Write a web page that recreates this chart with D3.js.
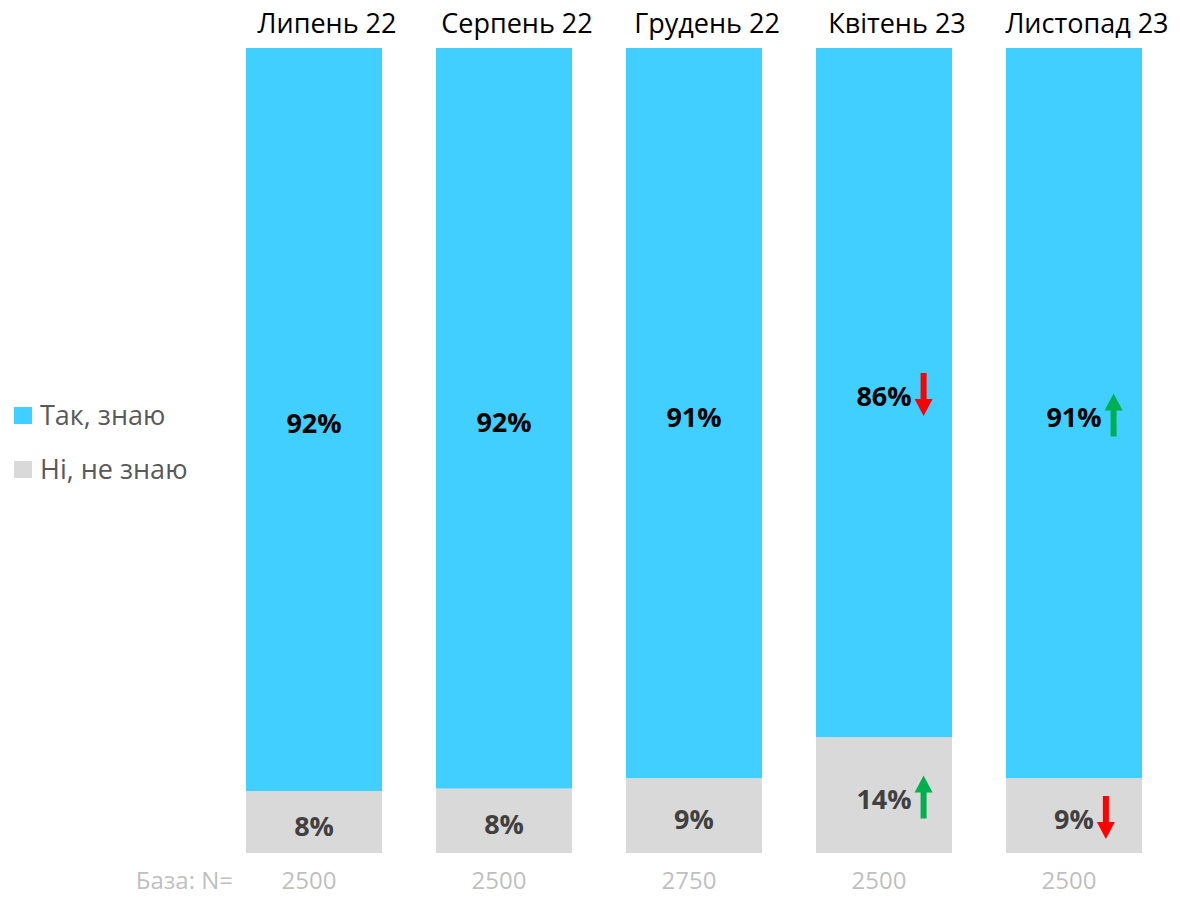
<!DOCTYPE html>
<html>
<head>
<meta charset="utf-8">
<script src="https://cdn.jsdelivr.net/npm/d3@7"></script>
<style>
  body { margin: 0; background: #fff; }
  svg text { font-family: "Open Sans", "Noto Sans", sans-serif; }
</style>
</head>
<body>
<svg id="chart" width="1180" height="898"></svg>
<script>
// Data

var months = ["Липень 22", "Серпень 22", "Грудень 22", "Квітень 23", "Листопад 23"];
var yesValues = [92.3, 92.0, 90.7, 85.6, 90.7];   // Так, знаю
var noValues = [7.7, 8.0, 9.3, 14.4, 9.3];         // Ні, не знаю
var baseN = [2500, 2500, 2750, 2500, 2500];
// change markers: 0 = none, 1 = up, -1 = down
var yesChange = [0, 0, 0, -1, 1];
var noChange = [0, 0, 0, 1, -1];
var seriesNames = ["Так, знаю", "Ні, не знаю"];

var blue = "#41CFFF",
    grey = "#D9D9D9",
    upColor = "#00B050",
    downColor = "#FF0000";

var svg = d3.select("#chart");

// Scales
var x = d3.scaleBand()
    .domain(months)
    .range([246, 1142])
    .paddingInner(0.284)
    .paddingOuter(0);

var y = d3.scaleLinear()
    .domain([0, 100])
    .range([853, 48]);

var rows = months.map(function (m, i) {
    return { month: m, no: noValues[i], yes: yesValues[i], n: baseN[i], yc: yesChange[i], nc: noChange[i] };
});

var stack = d3.stack().keys(["no", "yes"]);
var layers = stack(rows);
var colors = { no: grey, yes: blue };

// bars
svg.selectAll(".layer")
    .data(layers)
    .enter()
    .append("g")
    .attr("class", "layer")
    .attr("fill", function (d) { return colors[d.key]; })
    .selectAll("rect")
    .data(function (d) { return d; })
    .enter()
    .append("rect")
    .attr("x", function (d) { return x(d.data.month); })
    .attr("y", function (d) { return y(d[1]); })
    .attr("width", x.bandwidth())
    .attr("height", function (d) { return y(d[0]) - y(d[1]); });

// arrow path, centred on (0,0), length 43
function arrowPath(dir) {
    var h = 21.5, sw = 3, hw = 9, hl = 17;
    if (dir > 0) {
        return "M0," + (-h) + "L" + hw + "," + (-h + hl) + "L" + sw + "," + (-h + hl) +
            "L" + sw + "," + h + "L" + (-sw) + "," + h + "L" + (-sw) + "," + (-h + hl) +
            "L" + (-hw) + "," + (-h + hl) + "Z";
    }
    return "M0," + h + "L" + hw + "," + (h - hl) + "L" + sw + "," + (h - hl) +
        "L" + sw + "," + (-h) + "L" + (-sw) + "," + (-h) + "L" + (-sw) + "," + (h - hl) +
        "L" + (-hw) + "," + (h - hl) + "Z";
}

// value labels
layers.forEach(function (layer) {
    var key = layer.key;
    layer.forEach(function (d) {
        var cx = x(d.data.month) + x.bandwidth() / 2;
        var cy = (y(d[0]) + y(d[1])) / 2 + 3;
        var t = svg.append("text")
            .attr("x", cx)
            .attr("y", cy)
            .attr("text-anchor", "middle")
            .attr("dominant-baseline", "central")
            .attr("font-size", "27px")
            .attr("font-weight", "bold")
            .attr("fill", key === "yes" ? "#000" : "#404040")
            .text(Math.round(d.data[key]) + "%");
        var change = key === "yes" ? d.data.yc : d.data.nc;
        if (change !== 0) {
            var w = t.node().getComputedTextLength();
            svg.append("path")
                .attr("transform", "translate(" + (cx + w / 2 + 12) + "," + (cy - 1) + ")")
                .attr("d", arrowPath(change))
                .attr("fill", change > 0 ? upColor : downColor);
        }
    });
});

// month titles
svg.selectAll(".title")
    .data(months)
    .enter()
    .append("text")
    .attr("class", "title")
    .attr("x", function (d) { return x(d) + x.bandwidth() / 2 + 13; })
    .attr("y", 33)
    .attr("text-anchor", "middle")
    .attr("font-size", "27px")
    .attr("fill", "#000")
    .text(function (d) { return d; });

// base N row
svg.append("text")
    .attr("x", 233)
    .attr("y", 889)
    .attr("text-anchor", "end")
    .attr("font-size", "24px")
    .attr("fill", "#BFBFBF")
    .text("База: N=");

svg.selectAll(".base")
    .data(rows)
    .enter()
    .append("text")
    .attr("class", "base")
    .attr("x", function (d) { return x(d.month) + x.bandwidth() / 2 - 5; })
    .attr("y", 889)
    .attr("text-anchor", "middle")
    .attr("font-size", "24px")
    .attr("fill", "#BFBFBF")
    .text(function (d) { return d.n; });

// legend
var legend = svg.append("g").attr("class", "legend");
var legendItems = legend.selectAll("g")
    .data(seriesNames)
    .enter()
    .append("g")
    .attr("transform", function (d, i) { return "translate(14," + (407 + i * 54) + ")"; });

legendItems.append("rect")
    .attr("width", 18)
    .attr("height", 17)
    .attr("fill", function (d, i) { return i === 0 ? blue : grey; });

legendItems.append("text")
    .attr("x", 26)
    .attr("y", 18)
    .attr("font-size", "27px")
    .attr("fill", "#595959")
    .text(function (d) { return d; });
</script>
</body>
</html>
